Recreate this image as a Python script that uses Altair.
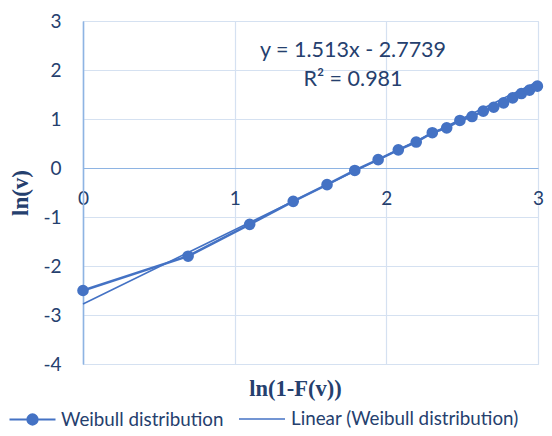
import altair as alt
import pandas as pd

# ---- data ----
x_vals = [0.0, 0.693, 1.099, 1.386, 1.609, 1.792, 1.946, 2.079, 2.197, 2.303,
          2.398, 2.485, 2.565, 2.639, 2.708, 2.773, 2.833, 2.890, 2.944, 2.996]
y_vals = [-2.5, -1.8, -1.15, -0.68, -0.34, -0.05, 0.17, 0.37, 0.53, 0.72,
          0.82, 0.97, 1.05, 1.16, 1.24, 1.33, 1.43, 1.52, 1.59, 1.67]
series_name = "Weibull distribution"
trend_name = "Linear (Weibull distribution)"
trend_coef = [1.513, -2.7739]          # slope, intercept shown on the chart
x_ticks = [0, 1, 2, 3]
y_ticks = [-4, -3, -2, -1, 0, 1, 2, 3]
eq_lines = ["y = 1.513x - 2.7739", "R² = 0.981"]
x_title = "ln(1-F(v))"
y_title = "ln(v)"

df = pd.DataFrame({"x": x_vals, "y": y_vals, "series": series_name, "trend": trend_name})
ann = pd.DataFrame({"k": [0]})

W, H = 455, 343
BLUE = "#4472C4"
TEXT = "#25406E"
GRID = "#D5E1F1"
AXIS = "#8EB4E3"
y0 = H * 3 / 7  # pixel row of y = 0

x_scale = alt.Scale(domain=[0, 3], nice=False, zero=False)
y_scale = alt.Scale(domain=[-4, 3], nice=False, zero=False)

x_axis = alt.Axis(
    values=x_ticks, orient="bottom", offset=-(H - y0), domain=False, ticks=False,
    labelExpr="'' + datum.value", labelFlush=False,
    labelPadding=21, labelFont="Lato", labelFontSize=19, labelColor=TEXT,
    grid=True, gridColor={"condition": {"test": "datum.value === 0", "value": AXIS}, "value": GRID},
    gridWidth=1.2,
    title=x_title, titleFont="Liberation Serif", titleFontWeight="bold", titleFontSize=22.5,
    titleColor=TEXT, titleX=212, titleY=(H - y0) + 24, titleBaseline="middle",
)
y_axis = alt.Axis(
    values=y_ticks, orient="left", domain=True, domainColor=AXIS, domainWidth=1.5, ticks=False,
    labelExpr="'' + datum.value", labelFlush=False,
    labelPadding=22, labelFont="Lato", labelFontSize=19, labelColor=TEXT,
    grid=True, gridColor={"condition": {"test": "datum.value === 0", "value": AXIS}, "value": GRID},
    gridWidth=1.2,
    title=y_title, titleFont="Liberation Serif", titleFontWeight="bold", titleFontSize=23,
    titleColor=TEXT, titleX=-63, titleY=H / 2, titleAngle=-90, titleBaseline="middle",
    titleAlign="center",
)

base = alt.Chart(df)

trend = base.transform_calculate(
    yfit=f"{trend_coef[0]} * datum.x + ({trend_coef[1]})"
).mark_line(strokeWidth=1.6).encode(
    x=alt.X("x:Q", scale=x_scale, axis=x_axis),
    y=alt.Y("yfit:Q", scale=y_scale, axis=y_axis),
    stroke=alt.Stroke("trend:N", scale=alt.Scale(domain=[trend_name], range=[BLUE]),
                      legend=alt.Legend(title=None, orient="none", legendX=155, legendY=374,
                                        symbolType="stroke", symbolSize=46 * 46,
                                        symbolStrokeWidth=1.6, padding=0, labelLimit=0,
                                        labelFont="Lato", labelFontSize=18.8, labelColor=TEXT,
                                        labelOffset=5)),
)

line = base.mark_line(color=BLUE, strokeWidth=2.5).encode(
    x=alt.X("x:Q", scale=x_scale),
    y=alt.Y("y:Q", scale=y_scale),
)

LEG_PATH = "M-1,0H1M0.22,0A0.22,0.22,0,1,1,-0.22,0A0.22,0.22,0,1,1,0.22,0Z"
points = base.mark_point(filled=True, size=135, opacity=1, color=BLUE).encode(
    x=alt.X("x:Q", scale=x_scale),
    y=alt.Y("y:Q", scale=y_scale),
    fill=alt.Fill("series:N", scale=alt.Scale(domain=[series_name], range=[BLUE]),
                  legend=alt.Legend(title=None, orient="none", legendX=-75, legendY=374,
                                    symbolType=LEG_PATH, symbolSize=46 * 46,
                                    symbolStrokeColor=BLUE, symbolStrokeWidth=2.2,
                                    symbolFillColor=BLUE, padding=0, labelLimit=0,
                                    labelFont="Lato", labelFontSize=18.8, labelColor=TEXT,
                                    labelOffset=4)),
)

text = alt.Chart(ann).mark_text(
    font="Lato", fontSize=21.5, color=TEXT, align="center", baseline="top", lineHeight=29,
).encode(x=alt.value(270), y=alt.value(19), text=alt.value(eq_lines))

chart = alt.layer(trend, line, points, text).properties(
    width=W, height=H,
    autosize=alt.AutoSizeParams(type="none"),
    padding={"left": 75, "top": 13, "right": 6, "bottom": 64},
).configure_view(stroke=None).configure(background="white")

chart.save("out.html", embed_options={"renderer": "svg", "actions": False})
